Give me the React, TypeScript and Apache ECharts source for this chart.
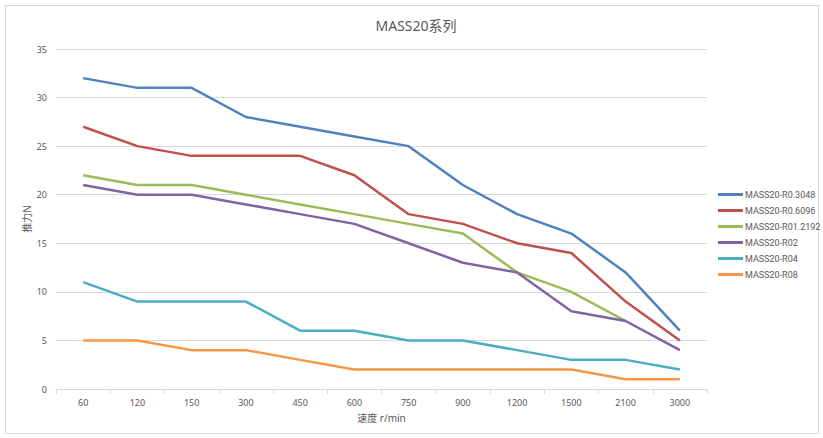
import React, { useEffect, useRef } from "react";
import * as echarts from "echarts";

const categories = ["60", "120", "150", "300", "450", "600", "750", "900", "1200", "1500", "2100", "3000"];
const seriesNames = ["MASS20-R0.3048", "MASS20-R0.6096", "MASS20-R01.2192", "MASS20-R02", "MASS20-R04", "MASS20-R08"];
const r03048 = [32, 31, 31, 28, 27, 26, 25, 21, 18, 16, 12, 6];
const r06096 = [27, 25, 24, 24, 24, 22, 18, 17, 15, 14, 9, 5];
const r012192 = [22, 21, 21, 20, 19, 18, 17, 16, 12, 10, 7, null];
const r02 = [21, 20, 20, 19, 18, 17, 15, 13, 12, 8, 7, 4];
const r04 = [11, 9, 9, 9, 6, 6, 5, 5, 4, 3, 3, 2];
const r08 = [5, 5, 4, 4, 3, 2, 2, 2, 2, 2, 1, 1];
const colors = ["#4F81BD", "#C0504D", "#9BBB59", "#8064A2", "#4BACC6", "#F79646"];

const font = "'Noto Sans', 'Noto Sans CJK SC', sans-serif";
const narrow = "Roboto, sans-serif";

export default function App() {
  const ref = useRef<HTMLDivElement>(null);
  useEffect(() => {
    if (!ref.current) return;
    const chart = echarts.init(ref.current, undefined, { renderer: "svg" });
    const data = [r03048, r06096, r012192, r02, r04, r08];
    chart.setOption({
      animation: false,
      backgroundColor: "#ffffff",
      color: colors,
      textStyle: { fontFamily: font },
      title: {
        text: "MASS20系列",
        left: 411,
        textAlign: "center",
        top: 13,
        textStyle: { fontSize: 14, fontWeight: "normal", color: "#595959", fontFamily: font },
      },
      graphic: [
        {
          type: "rect",
          shape: { x: 5.5, y: 5.5, width: 813, height: 428 },
          style: { fill: "none", stroke: "#d9d9d9", lineWidth: 1 },
          silent: true,
        },
      ],
      legend: {
        orient: "vertical",
        left: 718,
        top: 189,
        width: 105,
        padding: 0,
        itemWidth: 25,
        itemHeight: 3,
        itemGap: 5,
        icon: "rect",
        textStyle: {
          fontSize: 9,
          lineHeight: 11,
          height: 11,
          color: "#595959",
          fontFamily: narrow,
          overflow: "none",
          padding: [0, 0, 0, -3],
        },
        data: seriesNames,
      },
      grid: { left: 56, right: 116, top: 49, bottom: 49, containLabel: false },
      xAxis: {
        type: "category",
        data: categories,
        boundaryGap: true,
        name: "速度 r/min",
        nameLocation: "middle",
        nameGap: 24,
        nameTextStyle: { fontSize: 10, color: "#595959" },
        axisLine: { lineStyle: { color: "#d9d9d9", width: 1 } },
        axisTick: { show: true, alignWithLabel: false, length: 5, lineStyle: { color: "#d9d9d9" } },
        axisLabel: { fontSize: 9, color: "#595959", margin: 9 },
      },
      yAxis: {
        type: "value",
        min: 0,
        max: 35,
        interval: 5,
        name: "推力N",
        nameLocation: "middle",
        nameGap: 24,
        nameMoveOverlap: false,
        nameTextStyle: { fontSize: 10, color: "#595959" },
        axisLine: { show: false },
        axisTick: { show: false },
        axisLabel: { fontSize: 9, color: "#595959", margin: 9 },
        splitLine: { lineStyle: { color: "#d9d9d9", width: 1 } },
      },
      series: seriesNames.map((n, i) => ({
        name: n,
        type: "line",
        data: data[i],
        symbol: "none",
        lineStyle: { width: 2.5, color: colors[i] },
        connectNulls: false,
      })),
    });
    return () => chart.dispose();
  }, []);
  return <div ref={ref} style={{ position: "fixed", left: 0, top: 0, width: 823, height: 438 }} />;
}
